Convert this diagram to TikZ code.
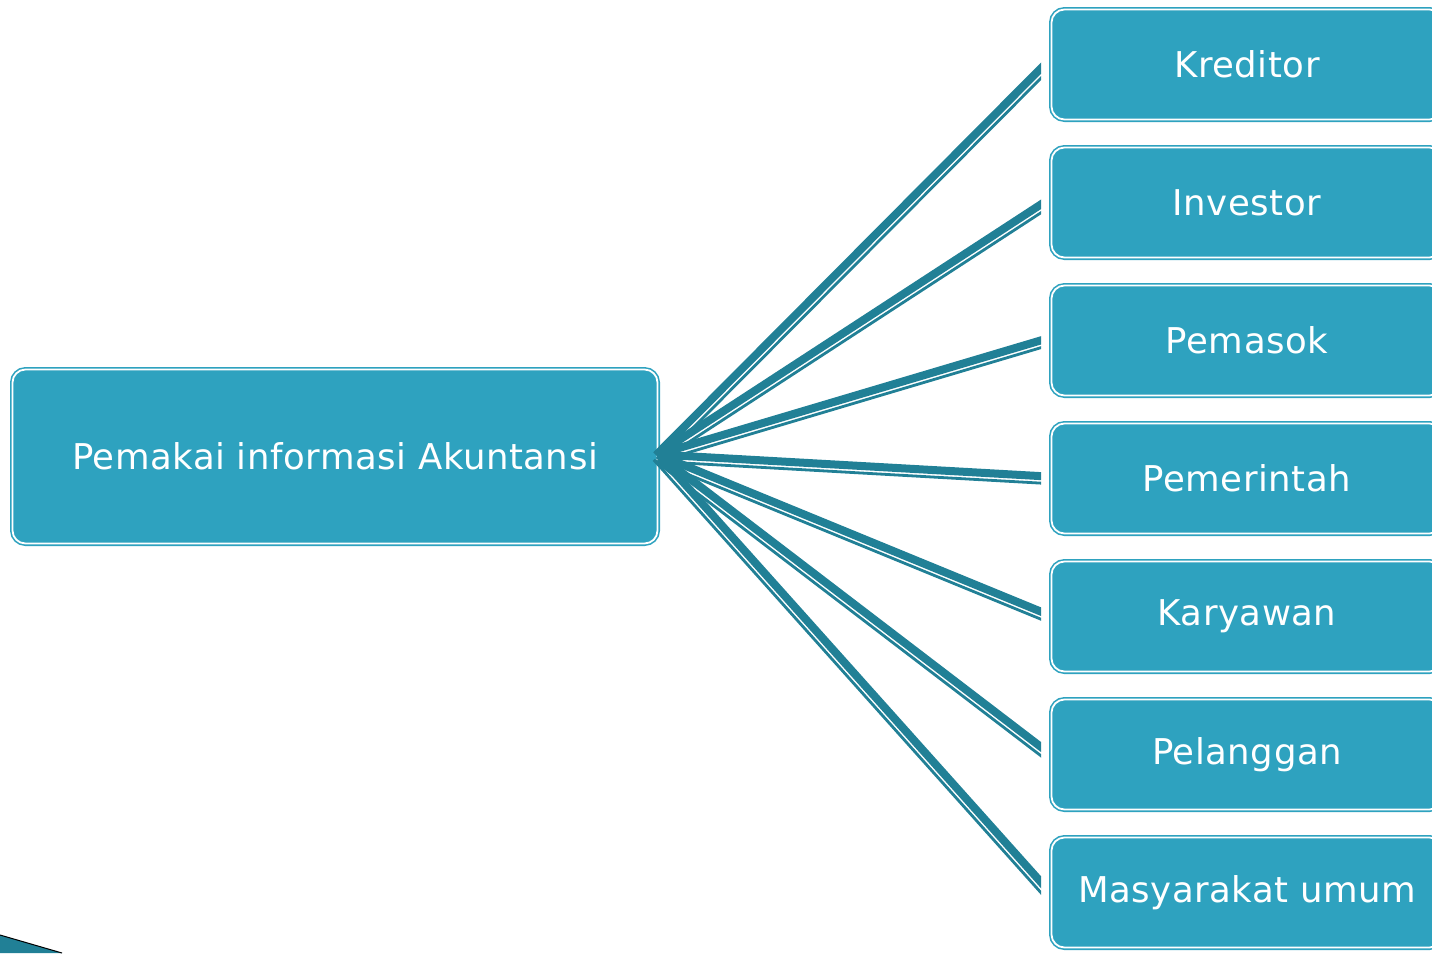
\documentclass[tikz,border=0pt]{standalone}
\usepackage{fontspec}
\setmainfont[LetterSpace=1.5]{DejaVu Sans}
\definecolor{boxfill}{RGB}{46, 162, 191}
\definecolor{linkdark}{RGB}{33, 128, 150}
\usetikzlibrary{calc,positioning}

\begin{document}
\begin{tikzpicture}[x=1pt,y=-1pt,
    userbox/.style={draw=boxfill, fill=boxfill, double=white, double distance=1.8pt,
        line width=1.6pt, rounded corners=13pt, outer sep=0pt, text=white,
        font=\fontsize{35.5}{42}\selectfont},
    linkthick/.style={draw=linkdark, line width=8pt},
    linkthin/.style={draw=linkdark, line width=2.8pt}]
    \useasboundingbox (0,0) rectangle (1432,953);
    \clip (0,0) rectangle (1432,953);

    % main box
    \node[userbox, minimum width=645pt, minimum height=174pt] (main) at (335,456.5)
        {Pemakai informasi Akuntansi};

    % user groups
    \foreach \name/\label [count=\i from 0] in {kreditor/Kreditor, investor/Investor,
            pemasok/Pemasok, pemerintah/Pemerintah, karyawan/Karyawan,
            pelanggan/Pelanggan, masyarakat/Masyarakat umum} {
        \node[userbox, minimum width=391pt, minimum height=110pt] (\name)
            at (1247,{64.5+138*\i}) {\label};
        \coordinate (\name-end) at ([xshift=-4pt]\name.west);
    }

    % connectors
    \begin{scope}
        \clip (0,0) rectangle (1041,953);
        \foreach \name in {kreditor,investor,pemasok,pemerintah,karyawan,pelanggan,masyarakat} {
            \draw[linkthick] ($(main.east)!2pt!90:(\name-end)$) -- ($(\name-end)!2pt!-90:(main.east)$);
            \draw[linkthin] ($(main.east)!5pt!-90:(\name-end)$) -- ($(\name-end)!5pt!90:(main.east)$);
        }
    \end{scope}

    % corner
    \fill[linkdark] (0,935) -- (62,953) -- (0,953) -- cycle;
    \draw[black, line width=1pt] (0,935) -- (62,953);
\end{tikzpicture}
\end{document}
